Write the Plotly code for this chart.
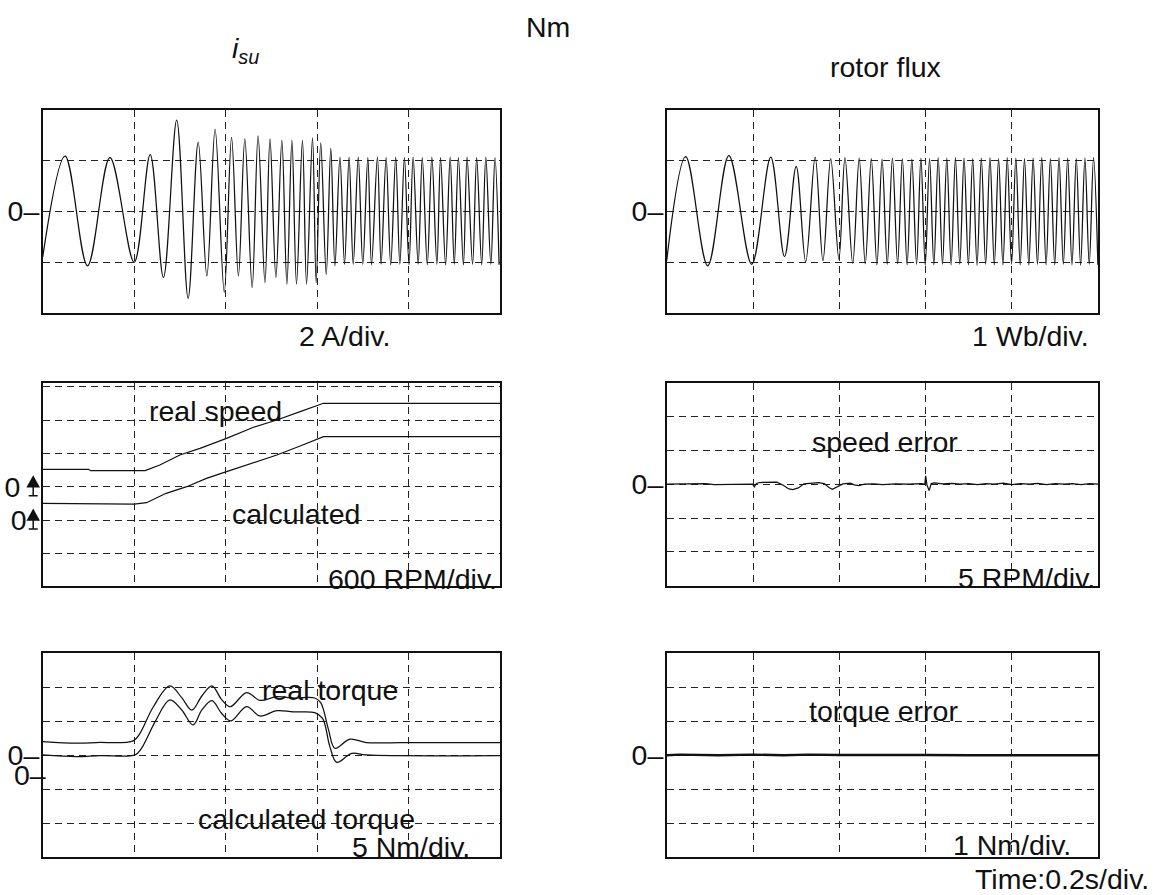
import plotly.graph_objects as go

# ---------------- measured traces (time in s, 0.2 s/div) ----------------
# stator current i_su: turning points of the waveform (s, A)
current_t = [0.000, 0.049, 0.098, 0.147, 0.200, 0.235, 0.264, 0.293, 0.318, 0.340,
             0.359, 0.377, 0.397, 0.413, 0.428, 0.442, 0.458, 0.471, 0.486, 0.497,
             0.510, 0.523, 0.534, 0.545, 0.555, 0.568, 0.577, 0.590, 0.598, 0.608,
             0.620, 0.630, 0.639, 0.650, 0.660, 0.670, 0.679, 0.690, 0.700, 0.711,
             0.719, 0.732, 0.740, 0.751, 0.761, 0.772, 0.781, 0.791, 0.801, 0.810,
             0.821, 0.830, 0.841, 0.851, 0.862, 0.870, 0.881, 0.891, 0.900, 0.909,
             0.920, 0.928, 0.940, 0.949, 0.960, 0.969, 0.980, 0.989, 0.998]
current_a = [-1.80, 2.18, -2.14, 2.12, -2.00, 2.24, -2.60, 3.60, -3.42, 2.72,
             -2.54, 3.24, -3.18, 2.92, -2.54, 2.86, -3.00, 2.98, -2.80, 2.86,
             -2.60, 2.80, -2.86, 2.80, -2.86, 2.80, -2.86, 2.90, -2.80, 2.70,
             -2.48, 2.50, -2.14, 2.14, -2.08, 2.14, -2.08, 2.14, -2.08, 2.12,
             -2.10, 2.14, -2.08, 2.12, -2.10, 2.14, -2.08, 2.12, -2.10, 2.14,
             -2.08, 2.12, -2.10, 2.14, -2.08, 2.12, -2.10, 2.14, -2.08, 2.12,
             -2.10, 2.14, -2.08, 2.12, -2.10, 2.14, -2.08, 2.12, -2.10]

# rotor flux: turning points (s, Wb)
flux_t = [0.000, 0.044, 0.095, 0.144, 0.197, 0.241, 0.273, 0.300, 0.322, 0.344,
          0.362, 0.380, 0.399, 0.413, 0.431, 0.446, 0.460, 0.474, 0.487, 0.499,
          0.511, 0.523, 0.535, 0.546, 0.557, 0.568, 0.579, 0.589, 0.599, 0.609,
          0.619, 0.629, 0.639, 0.649, 0.659, 0.669, 0.679, 0.689, 0.699, 0.709,
          0.719, 0.729, 0.739, 0.749, 0.759, 0.769, 0.779, 0.789, 0.799, 0.809,
          0.819, 0.829, 0.839, 0.849, 0.859, 0.869, 0.879, 0.889, 0.899, 0.909,
          0.919, 0.929, 0.939, 0.949, 0.959, 0.969, 0.979, 0.989, 0.999]
flux_wb = [-0.97, 1.08, -1.07, 1.10, -1.04, 1.07, -0.89, 0.89, -0.99, 1.07,
           -0.97, 1.04, -0.94, 1.06, -1.02, 1.05, -1.03, 1.04, -1.05, 1.03,
           -1.04, 1.05, -1.03, 1.04, -1.05, 1.03, -1.04, 1.05, -1.06, 1.04,
           -1.05, 1.06, -1.04, 1.05, -1.05, 1.06, -1.04, 1.05, -1.05, 1.04,
           -1.06, 1.05, -1.04, 1.06, -1.05, 1.04, -1.05, 1.06, -1.04, 1.05,
           -1.05, 1.04, -1.06, 1.05, -1.04, 1.06, -1.05, 1.04, -1.05, 1.06,
           -1.04, 1.05, -1.05, 1.04, -1.06, 1.05, -1.04, 1.06, -1.05]

# speed (RPM)
real_speed_t = [0.000, 0.100, 0.105, 0.224, 0.256, 0.300, 0.344, 0.402, 0.461,
                0.512, 0.563, 0.614, 1.000]
real_speed_rpm = [313, 313, 288, 288, 391, 571, 691, 871, 1070, 1201, 1351, 1502, 1502]
calc_speed_t = [0.000, 0.052, 0.057, 0.200, 0.227, 0.270, 0.315, 0.358, 0.402,
                0.461, 0.512, 0.563, 0.614, 1.000]
calc_speed_rpm = [301, 301, 288, 288, 312, 481, 600, 751, 871, 1033, 1171, 1333, 1501, 1501]

# speed error (RPM)
speed_err_t = [0.000, 0.050, 0.090, 0.110, 0.140, 0.199, 0.203, 0.208, 0.215, 0.232,
               0.255, 0.270, 0.283, 0.292, 0.305, 0.318, 0.335, 0.352, 0.365, 0.376,
               0.384, 0.395, 0.408, 0.425, 0.435, 0.445, 0.458, 0.480, 0.500, 0.530,
               0.560, 0.590, 0.598, 0.600, 0.603, 0.608, 0.613, 0.620, 0.640, 0.660,
               0.680, 0.700, 0.720, 0.740, 0.760, 0.780, 0.800, 0.820, 0.840, 0.860,
               0.880, 0.900, 0.920, 0.940, 0.960, 0.980, 1.000]
speed_err_rpm = [0.00, 0.00, 0.08, -0.05, 0.00, 0.00, -0.40, 0.10, 0.25, 0.30,
                 0.30, -0.15, -0.70, -0.80, -0.55, 0.05, 0.20, 0.25, 0.10, -0.50,
                 -0.75, -0.35, 0.05, 0.15, -0.10, -0.20, 0.00, 0.05, -0.05, 0.05,
                 0.00, 0.08, 0.00, 1.25, -0.10, -0.95, 0.10, 0.20, 0.05, 0.12,
                 0.00, 0.10, -0.05, 0.10, 0.00, 0.15, -0.05, 0.10, 0.00, 0.12,
                 -0.05, 0.10, 0.00, 0.10, -0.08, 0.10, 0.00]

# torque (Nm)
real_torque_t = [0.000, 0.074, 0.118, 0.198, 0.213, 0.242, 0.278, 0.304, 0.326, 0.348,
                 0.370, 0.391, 0.410, 0.446, 0.475, 0.512, 0.548, 0.595, 0.608, 0.625,
                 0.639, 0.672, 0.708, 0.781, 1.000]
real_torque_nm = [2.02, 1.78, 1.88, 2.13, 3.27, 7.14, 10.20, 8.48, 6.64, 8.72,
                  10.20, 8.23, 7.14, 9.23, 8.08, 8.63, 8.43, 8.43, 7.74, 3.77,
                  1.04, 2.38, 1.88, 1.88, 1.88]
calc_torque_t = [0.000, 0.074, 0.125, 0.202, 0.216, 0.246, 0.278, 0.304, 0.329, 0.348,
                 0.370, 0.391, 0.411, 0.446, 0.475, 0.512, 0.548, 0.595, 0.612, 0.628,
                 0.643, 0.676, 0.708, 1.000]
calc_torque_nm = [2.98, 2.73, 2.88, 2.98, 3.97, 7.94, 11.16, 9.67, 7.44, 9.67,
                  11.06, 9.18, 8.04, 10.17, 8.78, 9.57, 9.38, 9.27, 8.43, 4.21,
                  1.88, 3.22, 2.98, 2.88]

# torque error (Nm)
torque_err_t = [0.000, 0.030, 0.120, 0.200, 0.270, 0.330, 0.400, 0.500, 0.600,
                0.700, 0.800, 0.900, 1.000]
torque_err_nm = [0.00, 0.02, 0.00, 0.02, 0.00, 0.02, 0.01, 0.02, 0.01, 0.00, 0.00, 0.00, 0.00]

# ---------------- figure ----------------
W, H = 1154, 895
INK = "#111111"
FONT = "Liberation Sans, Arial, sans-serif"
FS = 28.5
ZERO = "0\u2013"

def px(x):
    return x / W

def py(y):
    return 1 - y / H

xl = [px(42.7), px(500)]
xr = [px(666.7), px(1098.3)]
y_top = [py(313), py(110)]
y_mid = [py(585.7), py(382.7)]
y_bot = [py(857.3), py(653.3)]

fig = go.Figure()

def line(x, y, xa, ya, width=1.25, spline=True):
    fig.add_trace(go.Scatter(
        x=x, y=y, xaxis=xa, yaxis=ya, mode="lines",
        line=dict(color=INK, width=width, shape="spline" if spline else "linear",
                  smoothing=1.0),
        hoverinfo="skip", showlegend=False))

line(current_t, current_a, "x", "y")
line(flux_t, flux_wb, "x2", "y2")
line(real_speed_t, real_speed_rpm, "x3", "y3", spline=False)
line(calc_speed_t, calc_speed_rpm, "x3", "y7", spline=False)
line(speed_err_t, speed_err_rpm, "x4", "y4", spline=False)
line(real_torque_t, real_torque_nm, "x5", "y5")
line(calc_torque_t, calc_torque_nm, "x5", "y8")
line(torque_err_t, torque_err_nm, "x6", "y6", width=2.4, spline=False)

grid = dict(showgrid=True, gridcolor="#222", gridwidth=1, griddash="7px,5px")
frame = dict(showline=True, mirror=True, linecolor=INK, linewidth=1.5, zeroline=False)
tickfont = dict(family=FONT, size=FS, color=INK)

def xaxis(dom, anchor):
    return dict(domain=dom, anchor=anchor, range=[0, 1.0], tick0=0, dtick=0.2,
                showticklabels=False, ticks="", **grid, **frame)

def yaxis(dom, anchor, rng, vals, labels, standoff=-4):
    return dict(domain=dom, anchor=anchor, range=rng, tickmode="array",
                tickvals=vals, ticktext=labels, ticks="", tickfont=tickfont,
                ticklabelstandoff=standoff, **grid, **frame)

def overlay_y(over, anchor, rng, label, standoff=-4):
    return dict(overlaying=over, anchor=anchor, side="left", range=rng,
                tickmode="array", tickvals=[0], ticktext=[label], ticks="",
                tickfont=tickfont, ticklabelstandoff=standoff, showgrid=False,
                showline=False, zeroline=False)

fig.update_layout(
    width=W, height=H, autosize=False,
    margin=dict(l=0, r=0, t=0, b=0),
    paper_bgcolor="white", plot_bgcolor="white",
    showlegend=False,
    font=dict(family=FONT, size=FS, color=INK),
    xaxis=xaxis(xl, "y"),
    xaxis2=xaxis(xr, "y2"),
    xaxis3=xaxis(xl, "y3"),
    xaxis4=xaxis(xr, "y4"),
    xaxis5=xaxis(xl, "y5"),
    xaxis6=xaxis(xr, "y6"),
    # 2 A/div
    yaxis=yaxis(y_top, "x", [-4, 4], [-4, -2, 0, 2, 4], ["", "", ZERO, "", ""]),
    # 1 Wb/div
    yaxis2=yaxis(y_top, "x2", [-2, 2], [-2, -1, 0, 1, 2], ["", "", ZERO, "", ""]),
    # 600 RPM/div, real speed channel
    yaxis3=yaxis(y_mid, "x3", [-1782, 1872], [-1200, -600, 0, 600, 1200, 1800],
                 ["", "", "0", "", "", ""], standoff=15),
    # 5 RPM/div
    yaxis4=yaxis(y_mid, "x4", [-15, 15], [-10, -5, 0, 5, 10], ["", "", ZERO, "", ""]),
    # 5 Nm/div, real torque channel
    yaxis5=yaxis(y_bot, "x5", [-15, 15], [-10, -5, 0, 5, 10], ["", "", ZERO, "", ""]),
    # 1 Nm/div
    yaxis6=yaxis(y_bot, "x6", [-3, 3], [-2, -1, 0, 1, 2], ["", "", ZERO, "", ""]),
    # calculated speed / calculated torque channels with their own zero
    yaxis7=overlay_y("y3", "x3", [-1182, 2472], "0", standoff=15),
    yaxis8=overlay_y("y5", "x5", [-12.25, 18.1], ZERO),
)

# channel zero markers (arrow with foot) for the speed panel
arrow_path = ("M -15,0 L -9.5,10 L -4,0 Z "
              "M -9.5,0 L -9.5,-9 M -14,-9 L -5,-9")
for yref in ("y3", "y7"):
    fig.add_shape(type="path", xref="paper", yref=yref,
                  xsizemode="pixel", ysizemode="pixel",
                  xanchor=xl[0], yanchor=0, path=arrow_path,
                  line=dict(color=INK, width=1.5), fillcolor=INK, layer="above")

def label(text, x, y, xanchor="center", size=FS):
    fig.add_annotation(text=text, x=px(x), y=py(y), xref="paper", yref="paper",
                       xanchor=xanchor, yanchor="middle", showarrow=False,
                       font=dict(family=FONT, size=size, color=INK))

label("<i>i</i><sub><i>su</i></sub>", 245, 50)
label("Nm", 548, 27)
label("rotor flux", 885, 67)
label("2 A/div.", 344, 336)
label("1 Wb/div.", 1030, 336)
label("real speed", 215, 411)
label("calculated", 296, 514)
label("600 RPM/div.", 499, 579, xanchor="right")
label("speed error", 885, 442)
label("5 RPM/div.", 1097, 578, xanchor="right")
label("real torque", 330, 690)
label("calculated torque", 306, 819)
label("5 Nm/div.", 411, 847)
label("torque error", 883, 711)
label("1 Nm/div.", 1012, 845)
label("Time:0.2s/div.", 1151, 879, xanchor="right")

fig.write_html("out.html", config={"displayModeBar": False})
